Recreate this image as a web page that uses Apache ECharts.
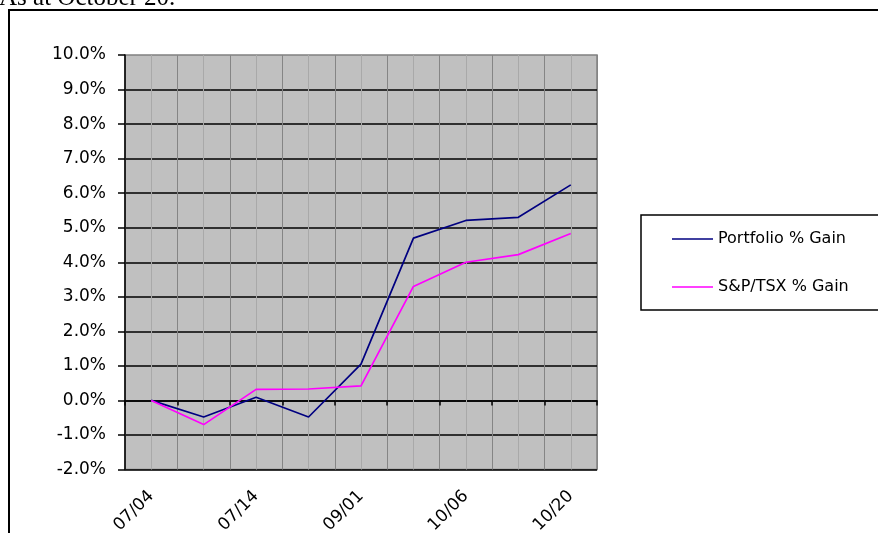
<!DOCTYPE html>
<html>
<head>
<meta charset="utf-8">
<script src="https://cdn.jsdelivr.net/npm/echarts@6/dist/echarts.min.js"></script>
<style>
html,body{margin:0;padding:0;background:#fff;}
#chart{width:878px;height:533px;}
</style>
</head>
<body>
<div id="chart"></div>
<script>
const categories = ['07/04', '07/07', '07/14', '08/18', '09/01', '09/22', '10/06', '10/13', '10/20'];
const portfolioGain = [0.0, -0.48, 0.09, -0.48, 1.05, 4.70, 5.21, 5.30, 6.24];
const tsxGain = [0.0, -0.70, 0.32, 0.33, 0.42, 3.30, 4.00, 4.22, 4.83];
const seriesNames = ['Portfolio % Gain', 'S&P/TSX % Gain'];
const seriesColors = ['#000080', '#ff00ff'];
const yTicks = { min: -2, max: 10, step: 1 };
const titleText = 'As at October 20.';

const FONT = 'DejaVu Sans';
const chart = echarts.init(document.getElementById('chart'), null, { renderer: 'canvas' });

chart.setOption({
  animation: false,
  backgroundColor: '#ffffff',
  graphic: [
    {
      type: 'rect', z: -10, silent: true,
      shape: { x: 9, y: 10, width: 900, height: 600 },
      style: { fill: 'none', stroke: '#000', lineWidth: 2 }
    },
    {
      type: 'text', x: -1, y: -2, z: 10, silent: true,
      style: {
        text: titleText, fill: '#000',
        font: '25px "Liberation Serif", "Times New Roman", serif',
        verticalAlign: 'middle', align: 'left'
      }
    }
  ],
  grid: {
    left: 125, top: 55, width: 472, height: 414.5,
    outerBoundsMode: 'none', containLabel: false,
    show: true, backgroundColor: '#c0c0c0', borderColor: '#808080', borderWidth: 1.5
  },
  legend: {
    orient: 'vertical',
    left: 641, top: 215,
    padding: [16, 40, 15, 31],
    itemGap: 32,
    itemWidth: 41, itemHeight: 1.5,
    borderColor: '#000', borderWidth: 1.5,
    backgroundColor: '#fff',
    textStyle: { fontFamily: FONT, fontSize: 16, color: '#000' },
    data: seriesNames.map(n => ({ name: n, icon: 'rect' }))
  },
  xAxis: [
    {
      type: 'category', data: categories, boundaryGap: true, position: 'bottom',
      axisLine: { onZero: true, lineStyle: { color: '#000', width: 1.5 } },
      axisTick: { show: true, interval: 0, length: 5, lineStyle: { color: '#000', width: 1.5 } },
      axisLabel: { show: false },
      splitLine: { show: true, interval: 0, lineStyle: { color: '#858585', width: 1 } }
    },
    {
      type: 'category', data: categories, boundaryGap: true, position: 'bottom',
      axisLine: { show: false, onZero: false },
      axisTick: { show: false },
      splitLine: { show: false },
      axisLabel: {
        show: true, interval: 1, rotate: 45, margin: 24,
        fontFamily: FONT, fontSize: 17, color: '#000'
      }
    }
  ],
  yAxis: {
    type: 'value', min: yTicks.min, max: yTicks.max, interval: yTicks.step,
    axisLine: { show: true, lineStyle: { color: '#000', width: 1.5 } },
    axisTick: { show: true, length: 7, lineStyle: { color: '#000', width: 1.5 } },
    axisLabel: {
      margin: 19, fontFamily: FONT, fontSize: 17, color: '#000',
      formatter: v => v.toFixed(1) + '%'
    },
    splitLine: { show: true, showMaxLine: false, lineStyle: { color: '#000', width: 1.5 } }
  },
  series: [
    {
      name: seriesNames[0], type: 'line', data: portfolioGain,
      symbol: 'none', showSymbol: false, z: 3,
      lineStyle: { color: seriesColors[0], width: 1.7 },
      itemStyle: { color: seriesColors[0] },
      markLine: {
        silent: true, symbol: ['none', 'none'], z: 1,
        label: { show: false },
        lineStyle: { color: '#a9a9a9', type: 'solid', width: 1 },
        data: categories.map(c => ({ xAxis: c }))
      }
    },
    {
      name: seriesNames[1], type: 'line', data: tsxGain,
      symbol: 'none', showSymbol: false, z: 3,
      lineStyle: { color: seriesColors[1], width: 1.7 },
      itemStyle: { color: seriesColors[1] }
    }
  ]
});
</script>
</body>
</html>
